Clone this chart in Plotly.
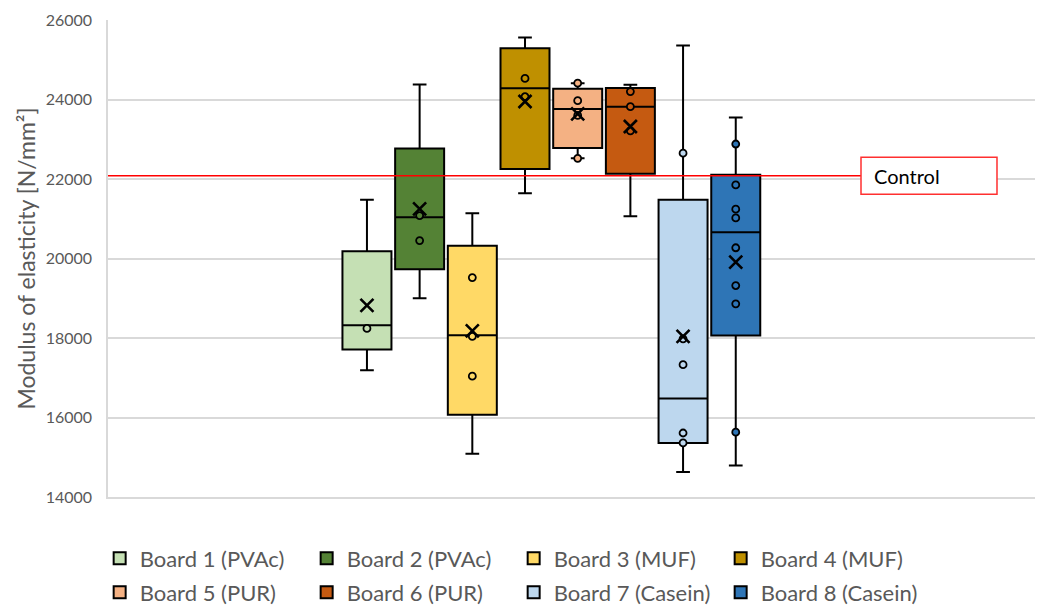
import plotly.graph_objects as go

# ---- data ----
boards = ["Board 1 (PVAc)", "Board 2 (PVAc)", "Board 3 (MUF)", "Board 4 (MUF)",
          "Board 5 (PUR)", "Board 6 (PUR)", "Board 7 (Casein)", "Board 8 (Casein)"]
positions = [1, 2, 3, 4, 5, 6, 7, 8]
lower_whisker = [17190, 19000, 15090, 21640, 22520, 21060, 14630, 14790]
q1_values     = [17710, 19730, 16070, 22250, 22780, 22130, 15360, 18060]
medians       = [18320, 21040, 18070, 24280, 23760, 23820, 16480, 20660]
q3_values     = [20180, 22770, 20320, 25290, 24270, 24290, 21480, 22110]
upper_whisker = [21480, 24380, 21140, 25560, 24410, 24370, 25360, 23550]
means         = [18820, 21250, 18180, 23950, 23640, 23320, 18040, 19910]
inner_points = [
    [18240],
    [21080, 20450],
    [19520, 18040, 17040],
    [24530, 24070],
    [24410, 23970, 23600, 22520],
    [24200, 23820, 23210],
    [22650, 17980, 17330, 15610, 15360],
    [22880, 21850, 21240, 21020, 20270, 19320, 18860, 15630],
]
control_value = 22080
control_label = "Control"
y_ticks = [14000, 16000, 18000, 20000, 22000, 24000, 26000]
y_title = "Modulus of elasticity [N/mm²]"

colors = ["#C5E0B4", "#548235", "#FFD966", "#BF9000",
          "#F4B183", "#C55A11", "#BDD7EE", "#2E75B6"]

FONT = "Lato"
GREY = "#595959"

fig = go.Figure()

for i, name in enumerate(boards):
    fig.add_trace(go.Box(
        x=[positions[i]], q1=[q1_values[i]], median=[medians[i]], q3=[q3_values[i]],
        lowerfence=[lower_whisker[i]], upperfence=[upper_whisker[i]],
        name=name, fillcolor=colors[i], line=dict(color="black", width=2),
        width=0.93, whiskerwidth=0.28, boxpoints=False, hoverinfo="skip",
        legend="legend" if i < 4 else "legend2",
    ))

for i, pts in enumerate(inner_points):
    fig.add_trace(go.Scatter(
        x=[positions[i]] * len(pts), y=pts, mode="markers", showlegend=False,
        marker=dict(symbol="circle", size=7, color=colors[i],
                    line=dict(color="black", width=1.8)),
        hoverinfo="skip",
    ))

fig.add_trace(go.Scatter(
    x=positions, y=means, mode="markers", showlegend=False,
    marker=dict(symbol="x-thin", size=13, color="black",
                line=dict(color="black", width=2.6)),
    hoverinfo="skip",
))

box_left = 0.8123
box_right = 0.959
fig.add_shape(type="line", xref="paper", yref="y", x0=0, x1=box_left,
              y0=control_value, y1=control_value,
              line=dict(color="#FF0000", width=1.5), layer="above")
fig.add_shape(type="rect", xref="paper", yref="y", x0=box_left, x1=box_right,
              ysizemode="pixel", yanchor=control_value, y0=-18.5, y1=18.5,
              line=dict(color="#FF3030", width=1.5), fillcolor="white", layer="above")
fig.add_annotation(xref="paper", yref="y", x=box_left + 0.012, y=control_value,
                   xanchor="left", yanchor="middle", text=control_label,
                   showarrow=False, font=dict(family=FONT, size=20, color="black"))

legend_common = dict(orientation="h", xanchor="left", yanchor="middle",
                     entrywidth=162, entrywidthmode="pixels",
                     font=dict(family=FONT, size=22, color=GREY),
                     traceorder="normal", bgcolor="rgba(0,0,0,0)")

fig.update_layout(
    width=1039, height=608,
    margin=dict(l=108, r=4, t=20, b=110.5, autoexpand=False),
    paper_bgcolor="white", plot_bgcolor="white",
    boxmode="overlay",
    showlegend=True,
    legend=dict(x=-0.009, y=-0.1288, **legend_common),
    legend2=dict(x=-0.009, y=-0.2000, **legend_common),
    xaxis=dict(range=[-3.915, 13.68], showticklabels=False, showgrid=False,
               zeroline=False, showline=True, linecolor="#D9D9D9", linewidth=1.5,
               ticks=""),
    yaxis=dict(range=[14000, 26000], tickvals=y_ticks,
               ticktext=[str(v) for v in y_ticks],
               showgrid=True, gridcolor="#D9D9D9", gridwidth=1.5,
               zeroline=False, showline=True, linecolor="#D9D9D9", linewidth=1.5,
               ticks="", ticklabelstandoff=11,
               tickfont=dict(family=FONT, size=16, color=GREY),
               title=dict(text=y_title, standoff=4,
                          font=dict(family=FONT, size=23, color=GREY))),
)

fig.write_html("out.html")
